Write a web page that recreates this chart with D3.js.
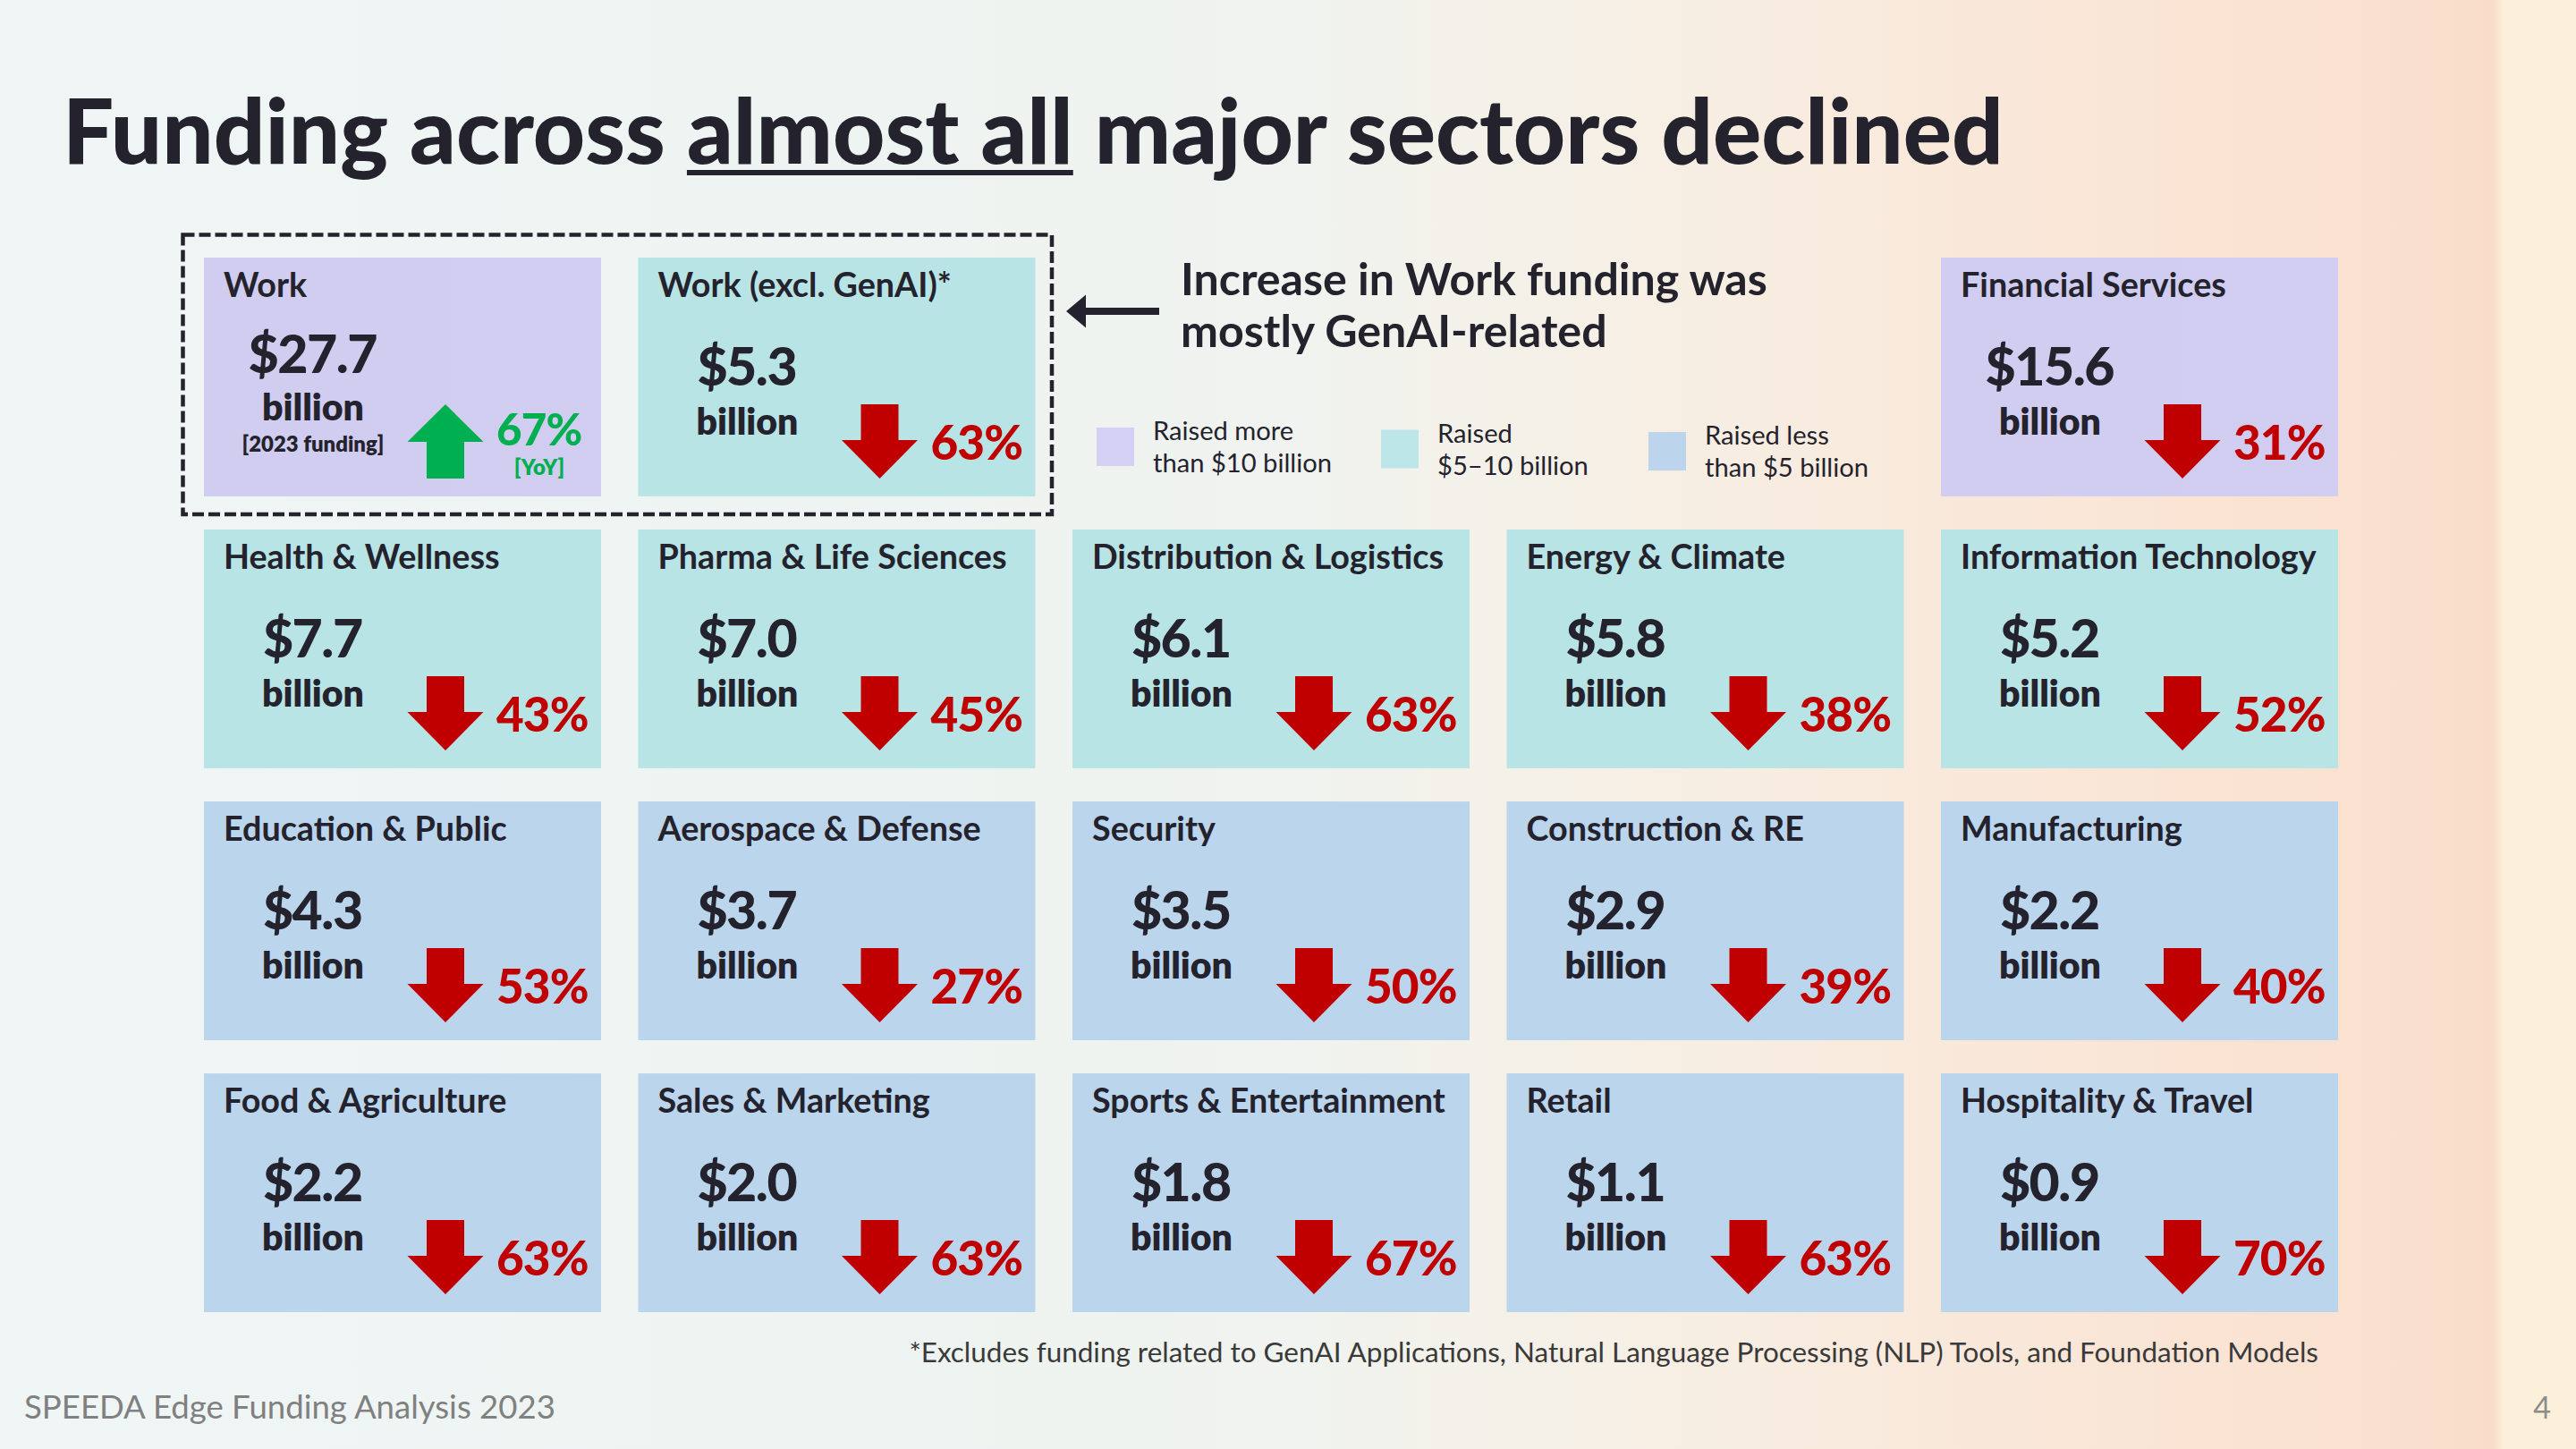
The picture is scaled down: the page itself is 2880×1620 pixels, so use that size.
<!DOCTYPE html>
<html><head><meta charset="utf-8">
<script src="https://cdn.jsdelivr.net/npm/d3@7"></script>
<style>html,body{margin:0;padding:0;overflow:hidden;background:#fff}</style>
</head><body>
<svg id="chart" width="2880" height="1620" xmlns="http://www.w3.org/2000/svg"></svg>
<script>
// ---------------- DATA ----------------
const sectors = [
  "Work", "Work (excl. GenAI)*", "Financial Services",
  "Health & Wellness", "Pharma & Life Sciences", "Distribution & Logistics", "Energy & Climate", "Information Technology",
  "Education & Public", "Aerospace & Defense", "Security", "Construction & RE", "Manufacturing",
  "Food & Agriculture", "Sales & Marketing", "Sports & Entertainment", "Retail", "Hospitality & Travel"
];
const funding = [27.7, 5.3, 15.6, 7.7, 7.0, 6.1, 5.8, 5.2, 4.3, 3.7, 3.5, 2.9, 2.2, 2.2, 2.0, 1.8, 1.1, 0.9];
const yoyChange = [67, -63, -31, -43, -45, -63, -38, -52, -53, -27, -50, -39, -40, -63, -63, -67, -63, -70];
const fundingThresholds = [5, 10];
const legendLabels = [["Raised more", "than $10 billion"], ["Raised", "$5\u201310 billion"], ["Raised less", "than $5 billion"]];
const titleParts = ["Funding across ", "almost all", " major sectors declined"];
const annotationLines = ["Increase in Work funding was", "mostly GenAI-related"];
const notedSector = "Work";
const notedLabels = ["[2023 funding]", "[YoY]"];
const unitLabel = "billion";
const footnote = "*Excludes funding related to GenAI Applications, Natural Language Processing (NLP) Tools, and Foundation Models";
const sourceLabel = "SPEEDA Edge Funding Analysis 2023";
const pageNumber = "4";

// ---------------- LAYOUT ----------------
const W = 2880, H = 1620;
const INK = "#24232d", RED = "#c00000", GREEN = "#00b050";
const FONT = "Lato, 'Noto Sans', sans-serif";
const svg = d3.select("#chart");
const defs = svg.append("defs");

function grad(id, stops) {
  const g = defs.append("linearGradient").attr("id", id)
    .attr("gradientUnits", "userSpaceOnUse").attr("x1", 0).attr("y1", 0).attr("x2", W).attr("y2", 0);
  stops.forEach(([o, c]) => g.append("stop").attr("offset", o).attr("stop-color", c));
}
grad("g-bg", [[0, "#eff6f5"], [0.3, "#edf4f2"], [0.5, "#f0f3ef"], [0.62, "#f6f0e6"], [0.75, "#f9e9db"], [0.9, "#fae2d1"], [0.968, "#f9ddca"], [0.972, "#fdf0db"], [1, "#fdf0da"]]);
grad("g-purple", [[0.08, "#d1cdf1"], [0.45, "#d3ccee"], [0.65, "#d8cbe8"], [0.76, "#dccbe5"], [0.91, "#dbc5dc"]]);
grad("g-teal", [[0.08, "#b8e4e6"], [0.45, "#b9e4e5"], [0.6, "#bce4e2"], [0.75, "#c2e4dc"], [0.91, "#c7e4d6"]]);
grad("g-blue", [[0.08, "#bad5ec"], [0.45, "#bbd5ea"], [0.6, "#bed3e4"], [0.75, "#c2cfdc"], [0.91, "#c5c9d3"]]);

svg.append("rect").attr("width", W).attr("height", H).attr("fill", "url(#g-bg)");

const fillScale = d3.scaleThreshold().domain(fundingThresholds).range(["url(#g-blue)", "url(#g-teal)", "url(#g-purple)"]);
const legendFill = ["#d4d0f4", "#bce6e8", "#bdd5ec"];

// measuring helper
const meas = svg.append("text").attr("x", -9999).attr("y", -9999).style("font-family", FONT);
function widthOf(txt, weight, size) {
  meas.style("font-weight", weight).style("font-size", size + "px").text(txt);
  return meas.node().getComputedTextLength();
}
function fit(txt, weight, target, base) {
  const w = widthOf(txt, weight, base);
  return base * target / w;
}
function spacingFor(txt, weight, size, target) {
  return (target - widthOf(txt, weight, size)) / txt.length;
}

// ---------- Title ----------
const titleSize = fit(titleParts.join(""), 900, 2170, 92);
const title = svg.append("text").attr("x", 70).attr("y", 183)
  .style("font-family", FONT).style("font-weight", 900).style("font-size", titleSize + "px").attr("fill", INK);
titleParts.forEach(p => title.append("tspan").text(p));
{
  const n = title.node();
  const s = titleParts[0].length, e = s + titleParts[1].length - 1;
  const x0 = n.getStartPositionOfChar(s).x, x1 = n.getEndPositionOfChar(e).x;
  svg.append("rect").attr("x", x0).attr("y", 190).attr("width", x1 - x0).attr("height", 6).attr("fill", INK);
}

// ---------- Card grid ----------
const slots = [[0, 0], [0, 1], [0, 4]];
for (let r = 1; r < 4; r++) for (let c = 0; c < 5; c++) slots.push([r, c]);

const xBand = d3.scaleBand().domain(d3.range(5)).range([228, 2614]).paddingInner(0.0855);
const yBand = d3.scaleBand().domain(d3.range(4)).range([288, 1467]).paddingInner(0.122);

const cards = sectors.map((s, i) => ({ sector: s, value: funding[i], change: yoyChange[i], row: slots[i][0], col: slots[i][1] }));

const cardTitleSize = fit("Financial Services", 700, 297, 33);
const valueSize = 59;
const valueSpacing = spacingFor("$15.6", 900, valueSize, 136) * 0.5;
const unitSize = fit(unitLabel, 800, 114, 39);
const pctSize = 53;
const pctSpacing = spacingFor("70%", 900, pctSize, 100) * 0.5;
const noteSize = fit(notedLabels[0], 800, 159, 22);

const g = svg.selectAll("g.card").data(cards).join("g").attr("class", "card")
  .attr("transform", d => `translate(${xBand(d.col)},${yBand(d.row)})`);

g.append("rect").attr("width", xBand.bandwidth()).attr("height", yBand.bandwidth())
  .attr("fill", d => fillScale(d.value));

g.append("text").attr("x", 22).attr("y", 44).text(d => d.sector)
  .style("font-family", FONT).style("font-weight", 700).style("font-size", cardTitleSize + "px").attr("fill", INK);

const isNoted = d => d.sector === notedSector;

g.append("text").attr("x", 122 + valueSpacing / 2).attr("y", d => isNoted(d) ? 129 : 143).attr("text-anchor", "middle")
  .text(d => "$" + d3.format(".1f")(d.value))
  .style("font-family", FONT).style("font-weight", 900).style("font-size", valueSize + "px")
  .style("letter-spacing", valueSpacing + "px").attr("fill", INK);

g.append("text").attr("x", 122).attr("y", d => isNoted(d) ? 182 : 198).attr("text-anchor", "middle")
  .text(unitLabel)
  .style("font-family", FONT).style("font-weight", 800).style("font-size", unitSize + "px").attr("fill", INK);

// arrows
function arrowPath(d) {
  const cx = 270, sw = 21, hw = 42.5;
  if (d.change < 0) {
    const top = 164, head = 204, tip = 247;
    return `M${cx - sw},${top}H${cx + sw}V${head}H${cx + hw}L${cx},${tip}L${cx - hw},${head}H${cx - sw}Z`;
  } else {
    const tip = 164, head = 206, bot = 247;
    return `M${cx},${tip}L${cx + hw},${head}H${cx + sw}V${bot}H${cx - sw}V${head}H${cx - hw}Z`;
  }
}
g.append("path").attr("d", arrowPath).attr("fill", d => d.change < 0 ? RED : GREEN);

g.append("text").attr("x", 327).attr("y", d => d.change < 0 ? 226 : 210)
  .text(d => Math.abs(d.change) + "%")
  .style("font-family", FONT).style("font-weight", 900)
  .style("font-size", d => (d.change < 0 ? pctSize : pctSize * 0.93) + "px")
  .style("letter-spacing", pctSpacing + "px")
  .attr("fill", d => d.change < 0 ? RED : GREEN);

const noted = g.filter(isNoted);
noted.append("text").attr("x", 122).attr("y", 217).attr("text-anchor", "middle").text(notedLabels[0])
  .style("font-family", FONT).style("font-weight", 800).style("font-size", noteSize + "px").attr("fill", INK);
noted.append("text").attr("x", 375).attr("y", 243).attr("text-anchor", "middle").text(notedLabels[1])
  .style("font-family", FONT).style("font-weight", 800).style("font-size", noteSize + "px").attr("fill", GREEN);

// dashed highlight box around the first two cards
svg.append("rect").attr("x", 204.5).attr("y", 262.5).attr("width", 971.5).attr("height", 312.5)
  .attr("fill", "none").attr("stroke", INK).attr("stroke-width", 4.5).attr("stroke-dasharray", "13,5");

// ---------- Annotation ----------
const annSize = fit(annotationLines[0], 700, 656, 46);
svg.append("path")
  .attr("d", "M1296,344H1214V329.5L1192,348L1214,366.5V352H1296Z")
  .attr("fill", INK);
annotationLines.forEach((t, i) => {
  svg.append("text").attr("x", 1320).attr("y", 330 + i * 58).text(t)
    .style("font-family", FONT).style("font-weight", 700).style("font-size", annSize + "px").attr("fill", INK);
});

// ---------- Legend ----------
const legX = [1226, 1544, 1843];
const legSize = fit(legendLabels[0][1], 400, 200, 29);
legendLabels.forEach((lines, i) => {
  const lx = legX[i], ly = 478 + i * 2.5;
  svg.append("rect").attr("x", lx).attr("y", ly).attr("width", 42).attr("height", 43).attr("fill", legendFill[i]);
  lines.forEach((t, j) => {
    svg.append("text").attr("x", lx + 63).attr("y", ly + 14 + j * 36).text(t)
      .style("font-family", FONT).style("font-weight", 400).style("font-size", legSize + "px").attr("fill", INK);
  });
});

// ---------- Footer ----------
const footSize = fit(footnote, 400, 1576, 28);
svg.append("text").attr("x", 2592).attr("y", 1523).attr("text-anchor", "end").text(footnote)
  .style("font-family", FONT).style("font-weight", 400).style("font-size", footSize + "px").attr("fill", "#3a3a3a");
const srcSize = fit(sourceLabel, 400, 594, 34);
svg.append("text").attr("x", 27).attr("y", 1586).text(sourceLabel)
  .style("font-family", FONT).style("font-weight", 400).style("font-size", srcSize + "px").attr("fill", "#808080");
svg.append("text").attr("x", 2852).attr("y", 1586).attr("text-anchor", "end").text(pageNumber)
  .style("font-family", FONT).style("font-weight", 400).style("font-size", "34px").attr("fill", "#8c8c8c");

meas.remove();
</script>
</body></html>
